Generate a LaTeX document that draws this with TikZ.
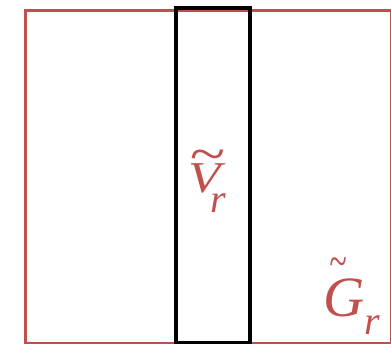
\documentclass[tikz,border=0pt]{standalone}
\usepackage{fontspec}
\setmainfont{Liberation Serif}
\definecolor{accred}{HTML}{C0504D}
\begin{document}
\begin{tikzpicture}[x=1pt,y=-1pt,
  box/.style={draw, inner sep=0pt, anchor=north west},
  lbl/.style={text=accred, inner sep=0pt, anchor=base west, font=\itshape}]
\useasboundingbox (0,0) rectangle (391,344);
\node[box, draw=accred, line width=3.2pt, minimum width=366pt, minimum height=333.5pt] (outer) at (23.5,9) {};
\node[box, draw=black, line width=3.8pt, minimum width=74pt, minimum height=335pt] (inner) at (174,6) {};
\node[lbl] (vlab) at (188.5,193) {\fontsize{44}{44}\selectfont\makebox[0pt][l]{\hspace*{0.5pt}\raisebox{21.8pt}{\fontsize{65}{65}\selectfont\scalebox{1}[0.8]{\textasciitilde}}}\scalebox{1.2}[1]{V}\hspace*{-10pt}\raisebox{-20pt}{\fontsize{40}{40}\selectfont r}};
\node[lbl] (glab) at (323,317) {\fontsize{57}{57}\selectfont\makebox[0pt][l]{\hspace*{6.5pt}\raisebox{39.7pt}{\fontsize{32}{32}\selectfont\scalebox{1}[1.5]{\textasciitilde}}}G\hspace*{0.6pt}\raisebox{-18pt}{\fontsize{40}{40}\selectfont r}};
\end{tikzpicture}
\end{document}
